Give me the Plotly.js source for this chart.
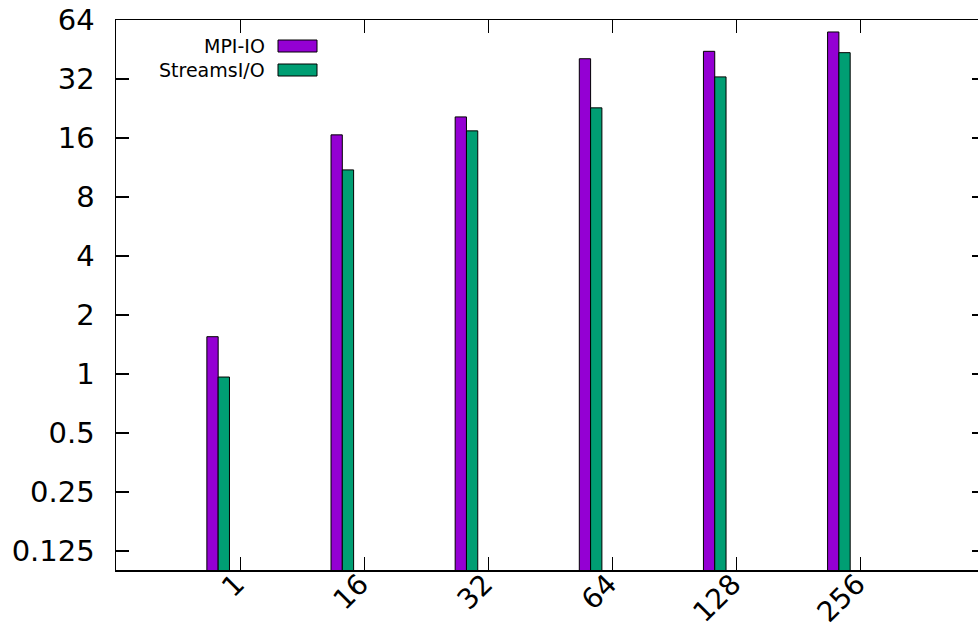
<!DOCTYPE html>
<html><head>
<meta charset="utf-8">
<script src="https://cdn.plot.ly/plotly-3.0.1.min.js"></script>
<style>html,body{margin:0;padding:0;overflow:hidden;background:#fff}</style>
</head>
<body>
<div id="chart" style="width:990px;height:634px"></div>
<script>
const categories = ["1", "16", "32", "64", "128", "256"];
const mpiIO = [1.55, 16.6, 20.5, 40.6, 44.3, 55.6];
const streamsIO = [0.965, 11.0, 17.4, 22.8, 32.8, 43.6];
const seriesNames = ["MPI-IO", "StreamsI/O"];
const seriesColors = ["#9400d3", "#009e73"];
const yTickVals = [0.125, 0.25, 0.5, 1, 2, 4, 8, 16, 32, 64];
const yTickText = ["0.125", "0.25", "0.5", "1", "2", "4", "8", "16", "32", "64"];

const barWidth = 0.091;
const offsets = [-0.268, -0.177];
const seriesValues = [mpiIO, streamsIO];

const traces = seriesValues.map((vals, k) => ({
  type: 'bar',
  x: categories,
  y: vals,
  name: seriesNames[k],
  width: barWidth,
  offset: offsets[k],
  marker: {color: seriesColors[k], line: {color: '#000', width: 1}},
  showlegend: false,
  hoverinfo: 'x+y'
}));

const font = {family: 'DejaVu Sans', color: '#000'};
const plotL = 116, plotR = 985, plotT = 20, plotB = 570;
const px = v => (v - plotL) / (plotR - plotL);
const py = v => (plotB - v) / (plotB - plotT);

const shapes = [], annotations = [];
const legendRows = [46, 70];
seriesNames.forEach((n, k) => {
  shapes.push({type: 'rect', xref: 'paper', yref: 'paper',
    x0: px(278), x1: px(317), y0: py(legendRows[k] - 6), y1: py(legendRows[k] + 6),
    fillcolor: seriesColors[k], line: {color: '#000', width: 1}});
  annotations.push({xref: 'paper', yref: 'paper', x: px(267), y: py(legendRows[k]),
    xanchor: 'right', yanchor: 'middle', text: n, showarrow: false,
    font: {family: 'DejaVu Sans', size: 19, color: '#000'}});
});

const layout = {
  width: 990, height: 634,
  margin: {l: plotL, r: 990 - plotR, t: plotT, b: 634 - plotB},
  paper_bgcolor: '#fff', plot_bgcolor: '#fff',
  barmode: 'overlay',
  font: font,
  xaxis: {
    type: 'category', range: [-1, 6],
    showline: true, linecolor: '#000', linewidth: 1.5, mirror: 'ticks',
    ticks: 'inside', ticklen: 13, tickwidth: 1.2, tickcolor: '#000',
    tickangle: -45, tickfont: {family: 'DejaVu Sans', size: 28, color: '#000'},
    ticklabelstandoff: -15, ticklabelshift: -4,
    showgrid: false, zeroline: false
  },
  yaxis: {
    type: 'log', range: [Math.log10(0.1), Math.log10(64)],
    tickvals: yTickVals, ticktext: yTickText,
    showline: true, linecolor: '#000', linewidth: 1.5, mirror: 'ticks',
    ticks: 'inside', ticklen: 13, tickwidth: 1.2, tickcolor: '#000',
    tickfont: {family: 'DejaVu Sans', size: 29, color: '#000'},
    ticklabelstandoff: 14,
    showgrid: false, zeroline: false
  },
  shapes: shapes,
  annotations: annotations
};

Plotly.newPlot('chart', traces, layout, {displayModeBar: false, staticPlot: true});
</script>
</body></html>
